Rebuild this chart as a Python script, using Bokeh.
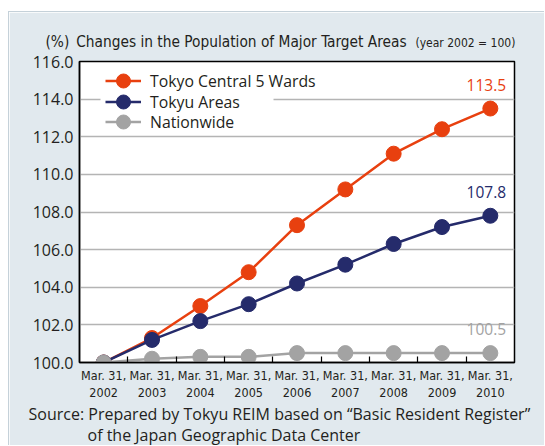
from bokeh.plotting import figure
from bokeh.models import (ColumnDataSource, FixedTicker, NumeralTickFormatter, Label,
                          Legend, LegendItem, BoxAnnotation)
from bokeh.core.properties import value
from bokeh.embed import file_html
from bokeh.resources import INLINE

years = ["2002", "2003", "2004", "2005", "2006", "2007", "2008", "2009", "2010"]
tokyo5 = [100.0, 101.3, 103.0, 104.8, 107.3, 109.2, 111.1, 112.4, 113.5]
tokyu = [100.0, 101.2, 102.2, 103.1, 104.2, 105.2, 106.3, 107.2, 107.8]
nation = [100.0, 100.2, 100.3, 100.3, 100.5, 100.5, 100.5, 100.5, 100.5]
series_names = ["Tokyo Central 5 Wards", "Tokyu Areas", "Nationwide"]
y_ticks = [100, 102, 104, 106, 108, 110, 112, 114, 116]

COND = "DejaVu Sans Condensed"
REG = "Open Sans"
colors = ["#e8400f", "#252b6b", "#a3a3a3"]
panel = "#e1e9ee"
edge = "#c5d1d9"
txt = "#231f20"

xs = list(range(len(years)))

p = figure(width=536, height=434,
           min_border_left=70, min_border_right=31, min_border_top=49, min_border_bottom=84,
           x_range=(-0.5, len(years) - 0.5), y_range=(y_ticks[0], y_ticks[-1]),
           output_backend="svg", toolbar_location=None)
p.styles = {"margin-left": "8px", "margin-top": "11px",
            "border-left": "1px solid " + edge, "border-top": "1px solid " + edge}
p.border_fill_color = panel
p.background_fill_color = "white"
p.outline_line_color = "black"
p.outline_line_width = 1.5

xa = p.xaxis[0]
xa.ticker = FixedTicker(ticks=xs, minor_ticks=[i + 0.5 for i in xs[:-1]])
xa.major_label_overrides = {i: "Mar. 31,\n" + y for i, y in zip(xs, years)}
xa.major_tick_in = 0
xa.major_tick_out = 0
xa.minor_tick_in = 6
xa.minor_tick_out = 0
xa.minor_tick_line_color = "black"
xa.minor_tick_line_width = 1.2
xa.axis_line_color = "black"
xa.axis_line_width = 1.5
xa.major_label_text_font = COND
xa.major_label_text_font_size = "12.5px"
xa.major_label_text_color = txt
xa.major_label_standoff = 5
xa.major_label_text_line_height = 1.15

ya = p.yaxis[0]
ya.ticker = FixedTicker(ticks=y_ticks)
ya.formatter = NumeralTickFormatter(format="0.0")
ya.major_tick_in = 0
ya.major_tick_out = 0
ya.minor_tick_in = 0
ya.minor_tick_out = 0
ya.axis_line_color = "black"
ya.axis_line_width = 1.5
ya.major_label_text_font = REG
ya.major_label_text_font_size = "16px"
ya.major_label_text_color = txt
ya.major_label_standoff = 6

p.xgrid.grid_line_color = None
p.ygrid.grid_line_color = "#b4b4b4"
p.ygrid.grid_line_width = 1.5

# white patch behind the legend (hides the gridline there)
p.add_layout(BoxAnnotation(left=21, right=194, bottom=250, top=273,
                           left_units="screen", right_units="screen",
                           bottom_units="screen", top_units="screen",
                           fill_color="white", fill_alpha=1, line_color=None))

legend_y = [264, 243, 223]
for name, vals, c, ly in zip(series_names, [tokyo5, tokyu, nation], colors, legend_y):
    src = ColumnDataSource(dict(x=xs, y=vals))
    r1 = p.line("x", "y", source=src, line_color=c, line_width=2.5)
    r2 = p.scatter("x", "y", source=src, size=15, fill_color=c, line_color=c)
    lab = ColumnDataSource(dict(x=[xs[-1]], y=[vals[-1]], t=["%.1f" % vals[-1]]))
    p.text("x", "y", text="t", source=lab, text_color=c, text_font=value(REG),
           text_font_size="15.5px", text_align="center", text_baseline="bottom",
           x_offset=-4, y_offset=-18)
    leg = Legend(items=[LegendItem(label=name, renderers=[r1, r2])], location=(26, ly))
    leg.background_fill_alpha = 0
    leg.border_line_color = None
    leg.padding = 0
    leg.margin = 0
    leg.glyph_width = 36
    leg.glyph_height = 35
    leg.label_height = 20
    leg.label_standoff = 9
    leg.label_text_font = REG
    leg.label_text_font_size = "15.8px"
    leg.label_text_color = txt
    p.add_layout(leg, "center")

# title (above) and source (below)
p.add_layout(Label(x=-34, y=20, x_units="screen", y_units="screen",
                   text="(%)\u2002Changes in the Population of Major Target Areas",
                   text_font=COND, text_font_size="15.3px", text_color=txt,
                   text_baseline="middle", text_align="left"), "above")
p.add_layout(Label(x=336, y=1, x_units="screen", y_units="screen",
                   text="(year 2002 = 100)",
                   text_font=COND, text_font_size="12px", text_color=txt,
                   text_baseline="middle", text_align="left"), "above")
p.add_layout(Label(x=-51, y=11, x_units="screen", y_units="screen",
                   text="Source: Prepared by Tokyu REIM based on \u201cBasic Resident Register\u201d",
                   text_font=REG, text_font_size="16px", text_color=txt,
                   text_baseline="middle", text_align="left"), "below")
p.add_layout(Label(x=8, y=12, x_units="screen", y_units="screen",
                   text="of the Japan Geographic Data Center",
                   text_font=REG, text_font_size="16px", text_color=txt,
                   text_baseline="middle", text_align="left"), "below")

open("out.html", "w").write(file_html(p, INLINE))
